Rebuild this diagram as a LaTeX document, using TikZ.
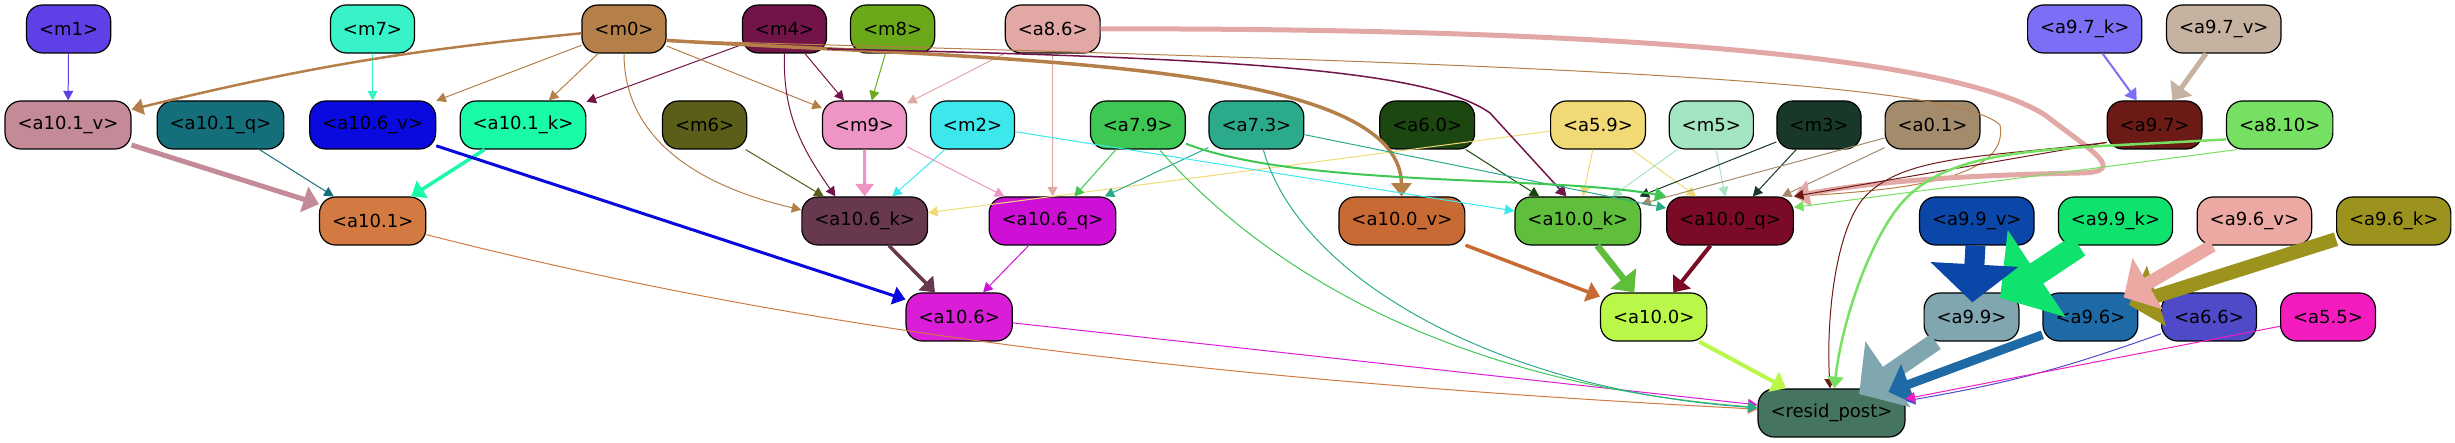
\documentclass[tikz,border=0pt]{standalone}
\usepackage{fontspec}
\setmainfont{DejaVu Sans}
\usepackage{tikz}
\usetikzlibrary{arrows.meta}
\definecolor{cm0}{HTML}{B57F4A}
\definecolor{cm1}{HTML}{5E40E6}
\definecolor{cm2}{HTML}{3CE8EC}
\definecolor{cm3}{HTML}{18382A}
\definecolor{cm4}{HTML}{721448}
\definecolor{cm5}{HTML}{A3E5C0}
\definecolor{cm6}{HTML}{5A5E18}
\definecolor{cm7}{HTML}{38F2C8}
\definecolor{cm8}{HTML}{6BA91A}
\definecolor{cm9}{HTML}{EE95C6}
\definecolor{ca86}{HTML}{E2A8A6}
\definecolor{ca97k}{HTML}{7C6FF5}
\definecolor{ca97v}{HTML}{C5B2A0}
\definecolor{ca97}{HTML}{6B1A16}
\definecolor{ca810}{HTML}{76E062}
\definecolor{ca101v}{HTML}{C48A98}
\definecolor{ca101q}{HTML}{146F7B}
\definecolor{ca101k}{HTML}{1AFBA8}
\definecolor{ca101}{HTML}{D27A42}
\definecolor{ca106v}{HTML}{0A0ADE}
\definecolor{ca106k}{HTML}{67384E}
\definecolor{ca106q}{HTML}{CE10D6}
\definecolor{ca106}{HTML}{DA1DD6}
\definecolor{ca79}{HTML}{3EC752}
\definecolor{ca73}{HTML}{2CAB8C}
\definecolor{ca60}{HTML}{1C4711}
\definecolor{ca59}{HTML}{F1DA75}
\definecolor{ca01}{HTML}{A48B6C}
\definecolor{ca100v}{HTML}{C76A33}
\definecolor{ca100k}{HTML}{5FBF3C}
\definecolor{ca100q}{HTML}{7A0A26}
\definecolor{ca100}{HTML}{B9F848}
\definecolor{ca99v}{HTML}{0A47A8}
\definecolor{ca99k}{HTML}{10E26E}
\definecolor{ca96v}{HTML}{ECA8A2}
\definecolor{ca96k}{HTML}{9C931E}
\definecolor{ca99}{HTML}{80A6AF}
\definecolor{ca96}{HTML}{1D6AA6}
\definecolor{ca66}{HTML}{4E4AC8}
\definecolor{ca55}{HTML}{F31CBE}
\definecolor{cresid}{HTML}{457560}
\tikzset{
  gvnode/.style={
    draw=black, line width=1.2pt, rounded corners=16pt,
    minimum height=48pt, inner xsep=12.5pt, inner ysep=0pt,
    font=\fontsize{18}{20}\selectfont, text=black
  },
  gvedge/.style={
    ->, >={Triangle[length=8pt 1.5, width=6pt 4]}, line width=1pt
  },
  bigedge/.style={
    gvedge, shorten >=-10pt
  }
}

\begin{document}
\begin{tikzpicture}[x=1pt, y=1pt]
  \useasboundingbox (0,0) rectangle (2455,443);

  % Top row
  \node[gvnode, fill=cm1] (m1) at (68.6,414) {<m1>};
  \node[gvnode, fill=cm7] (m7) at (372.5,414) {<m7>};
  \node[gvnode, fill=cm0] (m0) at (624,414) {<m0>};
  \node[gvnode, fill=cm4] (m4) at (784.5,414) {<m4>};
  \node[gvnode, fill=cm8] (m8) at (892.6,414) {<m8>};
  \node[gvnode, fill=ca86] (a86) at (1052.7,414) {<a8.6>};
  \node[gvnode, fill=ca97k] (a97k) at (2084.7,414) {<a9.7\_k>};
  \node[gvnode, fill=ca97v] (a97v) at (2223.8,414) {<a9.7\_v>};

  % Second row
  \node[gvnode, fill=ca101v] (a101v) at (68,318) {<a10.1\_v>};
  \node[gvnode, fill=ca101q] (a101q) at (220.5,318) {<a10.1\_q>};
  \node[gvnode, fill=ca106v] (a106v) at (372.7,318) {<a10.6\_v>};
  \node[gvnode, fill=ca101k] (a101k) at (523,318) {<a10.1\_k>};
  \node[gvnode, fill=cm6] (m6) at (704.6,318) {<m6>};
  \node[gvnode, fill=cm9] (m9) at (864.5,318) {<m9>};
  \node[gvnode, fill=cm2] (m2) at (972.5,318) {<m2>};
  \node[gvnode, fill=ca79] (a79) at (1137.8,318) {<a7.9>};
  \node[gvnode, fill=ca73] (a73) at (1256.4,318) {<a7.3>};
  \node[gvnode, fill=ca60] (a60) at (1427.2,318) {<a6.0>};
  \node[gvnode, fill=ca59] (a59) at (1598,318) {<a5.9>};
  \node[gvnode, fill=cm5] (m5) at (1711.3,318) {<m5>};
  \node[gvnode, fill=cm3] (m3) at (1819,318) {<m3>};
  \node[gvnode, fill=ca01] (a01) at (1932.5,318) {<a0.1>};
  \node[gvnode, fill=ca97] (a97) at (2154.6,318) {<a9.7>};
  \node[gvnode, fill=ca810] (a810) at (2279.7,318) {<a8.10>};

  % Third row
  \node[gvnode, fill=ca101] (a101) at (372.7,222) {<a10.1>};
  \node[gvnode, fill=ca106k] (a106k) at (864.7,222) {<a10.6\_k>};
  \node[gvnode, fill=ca106q] (a106q) at (1052.5,222) {<a10.6\_q>};
  \node[gvnode, fill=ca100v] (a100v) at (1401.9,222) {<a10.0\_v>};
  \node[gvnode, fill=ca100k] (a100k) at (1577.8,222) {<a10.0\_k>};
  \node[gvnode, fill=ca100q] (a100q) at (1730,222) {<a10.0\_q>};
  \node[gvnode, fill=ca99v] (a99v) at (1976.8,222) {<a9.9\_v>};
  \node[gvnode, fill=ca99k] (a99k) at (2115.5,222) {<a9.9\_k>};
  \node[gvnode, fill=ca96v] (a96v) at (2254.4,222) {<a9.6\_v>};
  \node[gvnode, fill=ca96k] (a96k) at (2393.7,222) {<a9.6\_k>};

  % Fourth row
  \node[gvnode, fill=ca106] (a106) at (959.2,126) {<a10.6>};
  \node[gvnode, fill=ca100] (a100) at (1653.7,126) {<a10.0>};
  \node[gvnode, fill=ca99] (a99) at (1971.5,126) {<a9.9>};
  \node[gvnode, fill=ca96] (a96) at (2090.4,126) {<a9.6>};
  \node[gvnode, fill=ca66] (a66) at (2209,126) {<a6.6>};
  \node[gvnode, fill=ca55] (a55) at (2328,126) {<a5.5>};

  % Bottom
  \node[gvnode, fill=cresid] (resid) at (1831.5,30) {<resid\_post>};

  % Arrows into <a10.1>
  \draw[gvedge, cm1] (m1) -- (a101v);
  \draw[gvedge, cm7] (m7) -- (a106v);
  \draw[gvedge, cm0, line width=2.5pt] (m0) to[bend right=4] (a101v);
  \draw[gvedge, cm0] (m0) -- (a106v);
  \draw[gvedge, cm0] (m0) -- (a101k);
  \draw[gvedge, cm4] (m4) -- (a101k);
  \draw[gvedge, ca101v, line width=5pt] (a101v) -- (a101);
  \draw[gvedge, ca101q] (a101q) -- (a101);
  \draw[gvedge, ca101k, line width=3.5pt] (a101k) -- (a101);

  % Arrows into m9 and <a10.6>
  \draw[gvedge, cm0] (m0) -- (m9);
  \draw[gvedge, cm4] (m4) -- (m9);
  \draw[gvedge, cm8] (m8) -- (m9);
  \draw[gvedge, ca86] (a86) -- (m9);
  \draw[gvedge, cm4] (m4.south) to[out=-92, in=125] (a106k.140);
  \draw[gvedge, cm0] (m0.south) to[out=-90, in=167] (a106k.170);
  \draw[gvedge, cm6] (m6) -- (a106k);
  \draw[gvedge, cm9, line width=3pt] (m9) -- (a106k);
  \draw[gvedge, cm2] (m2) -- (a106k);
  \draw[gvedge, ca59] (a59) -- (a106k);
  \draw[gvedge, cm9] (m9) -- (a106q);
  \draw[gvedge, ca86] (a86) -- (a106q);
  \draw[gvedge, ca79] (a79) -- (a106q);
  \draw[gvedge, ca73] (a73) -- (a106q);
  \draw[gvedge, ca106v, line width=3pt] (a106v) -- (a106);
  \draw[gvedge, ca106k, line width=3.5pt] (a106k) -- (a106);
  \draw[gvedge, ca106q] (a106q) -- (a106);

  % Arrows into <a10.0>
  \draw[gvedge, cm0, line width=3.5pt] (m0.-15) .. controls (1000,383) and (1400,383) .. (a100v);
  \draw[gvedge, cm0] (m0.-15) .. controls (1400,382) and (1950,368) .. (2000,318)
    .. controls (2010,263) and (1900,253) .. (a100q.north east);
  \draw[gvedge, cm4, line width=1.5pt] (m4.-25) .. controls (1250,385) and (1430,372) .. (1490,330) -- (a100k.115);
  \draw[gvedge, cm2] (m2) -- (a100k);
  \draw[gvedge, ca60] (a60) -- (a100k);
  \draw[gvedge, ca59] (a59) -- (a100k);
  \draw[gvedge, ca59] (a59) -- (a100q);
  \draw[gvedge, cm5] (m5) -- (a100k);
  \draw[gvedge, cm5] (m5) -- (a100q);
  \draw[gvedge, cm3] (m3) -- (a100k);
  \draw[gvedge, cm3] (m3) -- (a100q);
  \draw[gvedge, ca01] (a01) -- (a100k);
  \draw[gvedge, ca01] (a01) -- (a100q);
  \draw[gvedge, ca73] (a73) -- (a100q);
  \draw[gvedge, ca79, line width=2pt] (a79) .. controls (1300,255) and (1550,268) .. (a100q.north west);
  \draw[gvedge, ca86, line width=5pt] (a86) .. controls (1600,415) and (1950,388) .. (2045,328)
    .. controls (2090,293) and (2130,271) .. (2080,270)
    .. controls (1980,268) and (1880,263) .. (a100q.north east);
  \draw[gvedge, ca97] (a97.-160) -- (a100q.north east);
  \draw[gvedge, ca810] (a810.-150) -- (a100q.12);
  \draw[gvedge, ca100v, line width=3.5pt] (a100v) -- (a100);
  \draw[gvedge, ca100k, line width=6.5pt] (a100k) -- (a100);
  \draw[gvedge, ca100q, line width=4pt] (a100q) -- (a100);

  % Arrows into <a9.7>
  \draw[gvedge, ca97k, line width=2pt] (a97k) -- (a97);
  \draw[gvedge, ca97v, line width=5pt] (a97v) -- (a97);

  % Arrows into <a9.9> and <a9.6>
  \draw[bigedge, ca99k, line width=24pt] (a99k) -- (a99);
  \draw[bigedge, ca99v, line width=20pt] (a99v) -- (a99);
  \draw[bigedge, ca96k, line width=14pt] (a96k) -- (a96);
  \draw[bigedge, ca96v, line width=13pt] (a96v) -- (a96);

  % Arrows into <resid_post>
  \draw[gvedge, ca101] (a101) .. controls (800,113) and (1200,63) .. (resid);
  \draw[gvedge, ca106] (a106) -- (resid);
  \draw[gvedge, ca79] (a79) .. controls (1230,213) and (1400,63) .. (resid);
  \draw[gvedge, ca73] (a73) .. controls (1300,163) and (1500,53) .. (resid);
  \draw[gvedge, ca100, line width=4pt] (a100) -- (resid);
  \draw[gvedge, ca97] (a97.-160) .. controls (1980,285) and (1900,288) .. (1862,243)
    .. controls (1835,208) and (1826,123) .. (resid);
  \draw[gvedge, ca810, line width=2.5pt] (a810.-165) .. controls (2050,293) and (1950,298) .. (1900,238)
    .. controls (1870,202) and (1842,123) .. (resid);
  \draw[bigedge, ca99, line width=18pt] (a99) -- (resid);
  \draw[bigedge, ca96, line width=9pt] (a96) -- (resid);
  \draw[gvedge, ca66] (a66) to[bend left=5] (resid);
  \draw[gvedge, ca55] (a55) -- (resid);
\end{tikzpicture}
\end{document}
